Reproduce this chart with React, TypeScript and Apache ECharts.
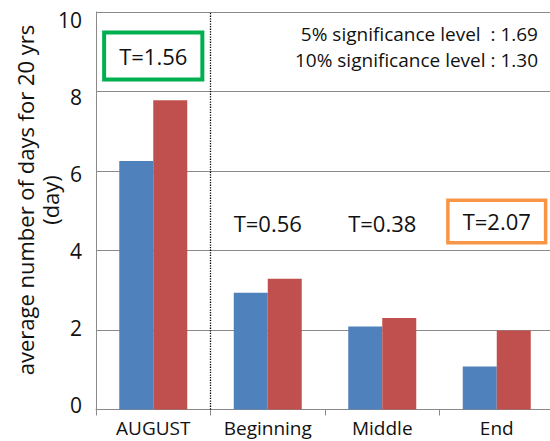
import React, { useEffect, useRef } from "react";
import * as echarts from "echarts";

const categories = ["AUGUST", "Beginning", "Middle", "End"];
const seriesA = [6.25, 2.94, 2.09, 1.08];
const seriesB = [7.78, 3.29, 2.3, 1.99];
const yTickLabels = [0, 2, 4, 6, 8, 10];
const annotCategories = ["AUGUST", "Beginning", "Middle", "End"];
const annotValues = [8.89, 4.69, 4.69, 4.73];
const annotTexts = ["T=1.56", "T=0.56", "T=0.38", "T=2.07"];
const annotBoxColors = ["#00B050", "", "", "#F79646"];
const sigLines = ["5% significance level  : 1.69", "10% significance level : 1.30"];
const yTitleLines = ["average number of days for 20 yrs", "(day)"];
const dividerPosition = [1];

const FONT = "'Open Sans', sans-serif";
const TEXT = "#111111";
const GRID = "#8a8a8a";

export default function App() {
  const ref = useRef<HTMLDivElement>(null);
  useEffect(() => {
    if (!ref.current) return;
    const chart = echarts.init(ref.current, undefined, { renderer: "svg" });
    const annotData = annotTexts.map((t, i) => {
      const c = annotBoxColors[i];
      return {
        name: t,
        value: [annotCategories[i], annotValues[i]],
        label: c
          ? i === 0
            ? { borderColor: c, borderWidth: 4, padding: [10, 13, 9, 13], backgroundColor: "#ffffff" }
            : { borderColor: c, borderWidth: 3.5, padding: [8, 13, 7, 13], backgroundColor: "#ffffff" }
          : { borderWidth: 0, padding: 0 },
      };
    });
    chart.setOption({
      animation: false,
      textStyle: { fontFamily: FONT, color: TEXT },
      grid: { left: 96, right: 6, top: 12, bottom: 31.5, containLabel: false },
      xAxis: [
        {
          type: "category",
          data: categories,
          boundaryGap: true,
          axisLine: { show: true, lineStyle: { color: GRID, width: 1 } },
          axisTick: { show: true, length: 6, lineStyle: { color: GRID } },
          axisLabel: { interval: 0, fontSize: 19, color: TEXT, margin: 9, fontFamily: FONT },
          splitLine: { show: false },
        },
        { type: "value", min: 0, max: 4, show: false },
      ],
      yAxis: [
        {
          type: "value",
          min: 0,
          max: 10,
          interval: 2,
          axisLine: { show: true, lineStyle: { color: GRID, width: 1 } },
          axisTick: { show: false },
          axisLabel: { show: false },
          splitLine: { show: true, lineStyle: { color: GRID, width: 1 } },
        },
        {
          type: "value",
          position: "left",
          min: -0.117,
          max: 10.2,
          axisLine: { show: false },
          axisTick: { show: false },
          splitLine: { show: false },
          axisLabel: {
            show: true,
            customValues: yTickLabels,
            fontSize: 21,
            color: TEXT,
            margin: 14,
            fontFamily: FONT,
          },
        },
      ],
      graphic: [
        {
          type: "text",
          x: 538,
          y: 21,
          style: {
            text: sigLines.join("\n"),
            textAlign: "right",
            textVerticalAlign: "top",
            fontSize: 19,
            lineHeight: 26,
            fontFamily: FONT,
            fill: TEXT,
          },
        },
        {
          type: "text",
          x: 37.5,
          y: 200,
          rotation: Math.PI / 2,
          style: {
            text: yTitleLines.join("\n"),
            textAlign: "center",
            textVerticalAlign: "middle",
            fontSize: 22,
            lineHeight: 25,
            fontFamily: FONT,
            fill: TEXT,
          },
        },
      ],
      series: [
        {
          type: "bar",
          data: seriesA,
          barWidth: 34,
          barGap: "0%",
          itemStyle: { color: "#4F81BD" },
        },
        {
          type: "bar",
          data: seriesB,
          barWidth: 34,
          barGap: "0%",
          itemStyle: { color: "#C0504D" },
        },
        {
          type: "line",
          xAxisIndex: 1,
          yAxisIndex: 0,
          data: [],
          silent: true,
          markLine: {
            silent: true,
            symbol: "none",
            label: { show: false },
            lineStyle: { type: "dotted", color: "#000000", width: 1.3 },
            data: dividerPosition.map((x) => ({ xAxis: x })),
          },
        },
        {
          type: "scatter",
          xAxisIndex: 0,
          yAxisIndex: 0,
          symbolSize: 0,
          silent: true,
          z: 10,
          itemStyle: { opacity: 1 },
          data: annotData,
          label: {
            show: true,
            position: "inside",
            formatter: (p: any) => p.name,
            fontSize: 22,
            lineHeight: 24,
            color: TEXT,
            opacity: 1,
            textBorderWidth: 0,
            textBorderColor: "transparent",
            fontFamily: FONT,
          },
        },
      ],
    });
    return () => chart.dispose();
  }, []);
  return (
    <div style={{ position: "fixed", left: 0, top: 0, width: 550, height: 441, overflow: "hidden", background: "#fff" }}>
      <div ref={ref} style={{ width: 560, height: 441 }} />
    </div>
  );
}
